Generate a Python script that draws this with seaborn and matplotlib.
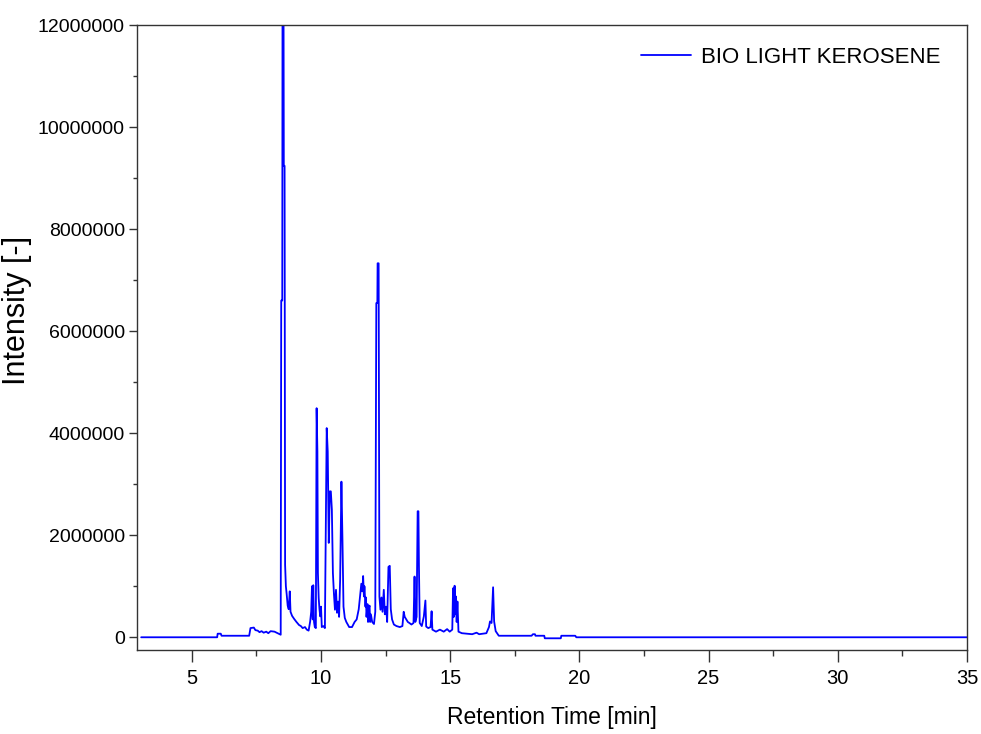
import matplotlib
matplotlib.use("Agg")
import matplotlib.pyplot as plt
from matplotlib.ticker import MultipleLocator, FuncFormatter
import seaborn as sns
import pandas as pd

# retention time [min] and intensity [x 1e6]
time_min = [
    3.04, 5.98, 6.00, 6.12, 6.15, 7.22, 7.27, 7.40, 7.46, 7.55, 7.62, 7.70, 7.78,
    7.88, 7.96, 8.05, 8.20, 8.32, 8.44, 8.46, 8.50, 8.51, 8.55, 8.56, 8.59, 8.61,
    8.64, 8.67, 8.71, 8.75, 8.79, 8.82, 8.88, 8.96, 9.05, 9.15, 9.22, 9.29, 9.38,
    9.45, 9.52, 9.58, 9.62, 9.65, 9.68, 9.70, 9.73, 9.76, 9.80, 9.83, 9.86, 9.88,
    9.91, 9.94, 9.97, 10.00, 10.03, 10.09, 10.15, 10.22, 10.26, 10.30, 10.34,
    10.38, 10.42, 10.46, 10.50, 10.54, 10.58, 10.62, 10.66, 10.70, 10.74, 10.79,
    10.83, 10.87, 10.92, 10.98, 11.09, 11.20, 11.30, 11.38, 11.46, 11.52, 11.56,
    11.60, 11.63, 11.66, 11.68, 11.72, 11.74, 11.76, 11.80, 11.82, 11.84, 11.88,
    11.90, 11.93, 11.98, 12.05, 12.10,
    12.14, 12.18, 12.19, 12.23, 12.26, 12.30, 12.34, 12.38, 12.43, 12.47, 12.52,
    12.56, 12.61, 12.66, 12.70, 12.75, 12.82, 12.92, 13.05, 13.15, 13.20, 13.24,
    13.30, 13.36, 13.42, 13.50, 13.58, 13.62, 13.65, 13.70, 13.74, 13.77, 13.79,
    13.82, 13.90, 13.98, 14.04, 14.07, 14.15, 14.24, 14.28, 14.31, 14.45, 14.60,
    14.75, 14.88, 14.98, 15.08, 15.11, 15.14, 15.17, 15.20, 15.22, 15.25, 15.28,
    15.32, 15.45, 15.65,
    15.85, 16.02, 16.12, 16.40, 16.50, 16.54, 16.60, 16.66, 16.70, 16.76, 16.88,
    18.15, 18.20, 18.28, 18.30, 18.64, 18.66, 19.28, 19.30, 19.84, 19.88, 35.0,
]
intensity_m = [
    0.00, 0.00, 0.07, 0.07, 0.03, 0.03, 0.18, 0.19, 0.14, 0.13, 0.10, 0.12, 0.09,
    0.11, 0.08, 0.12, 0.11, 0.08, 0.05, 6.60, 6.60, 12.30, 12.30, 9.24, 9.24, 1.42,
    1.00, 0.85, 0.62, 0.55, 0.90, 0.50, 0.42, 0.36, 0.30, 0.24, 0.22, 0.18, 0.20,
    0.15, 0.13, 0.31, 0.50, 1.00, 0.35, 1.02, 0.30, 0.20, 0.18, 4.49, 3.64, 1.26,
    0.77, 0.55, 0.41, 0.60, 0.20, 0.22, 0.18, 4.10, 3.64, 1.85, 2.86,
    2.86, 2.50, 1.26, 0.85, 0.54, 0.93, 0.48, 0.70, 0.40, 1.13, 3.05,
    1.91, 0.60, 0.38, 0.30, 0.20, 0.20, 0.30, 0.35, 0.55, 0.85, 1.05,
    0.90, 1.20, 0.80, 1.00, 0.60, 0.78, 0.40, 0.65, 0.30, 0.55, 0.62,
    0.30, 0.45, 0.30, 0.26, 0.50,
    6.55, 6.55, 7.33, 7.33, 0.80, 0.54, 0.78, 0.50, 0.93, 0.45, 0.60,
    0.30, 1.38, 1.40, 0.55, 0.35, 0.25, 0.22, 0.20, 0.22, 0.50, 0.40,
    0.35, 0.30, 0.28, 0.25, 0.28, 1.19, 0.30, 0.40, 2.47, 2.47, 1.39,
    0.28, 0.22, 0.41, 0.72, 0.21, 0.18, 0.20, 0.51, 0.15, 0.11, 0.15,
    0.11, 0.16, 0.11, 0.15, 0.96, 0.40, 1.01, 0.45, 0.80, 0.30, 0.70,
    0.11, 0.08, 0.07,
    0.06, 0.09, 0.06, 0.08, 0.20, 0.31, 0.28, 0.98, 0.31, 0.12, 0.03,
    0.03, 0.06, 0.06, 0.03, 0.03, -0.02, -0.02, 0.03, 0.03, 0.00, 0.00,
]
series_name = "BIO LIGHT KEROSENE"

df = pd.DataFrame({"time": time_min, "intensity": [v * 1e6 for v in intensity_m]})

sns.set_style("ticks")
plt.rcParams["font.family"] = ["Liberation Sans", "DejaVu Sans"]
plt.rcParams["text.color"] = "black"
plt.rcParams["axes.labelcolor"] = "black"
plt.rcParams["xtick.labelcolor"] = "black"
plt.rcParams["ytick.labelcolor"] = "black"

fig, ax = plt.subplots(figsize=(9.81, 7.34), dpi=100)
fig.subplots_adjust(left=0.1397, right=0.9857, bottom=0.1144, top=0.9659)

sns.lineplot(data=df, x="time", y="intensity", sort=False, estimator=None,
             color="#0000ff", lw=1.3, label=series_name, ax=ax)

ax.set_xlim(2.88, 35)
ax.set_ylim(-250000, 12000000)
ax.xaxis.set_major_locator(MultipleLocator(5))
ax.xaxis.set_minor_locator(MultipleLocator(2.5))
ax.yaxis.set_major_locator(MultipleLocator(2000000))
ax.yaxis.set_minor_locator(MultipleLocator(1000000))
ax.yaxis.set_major_formatter(FuncFormatter(lambda v, p: f"{int(round(v))}"))
ax.set_xticks([5, 10, 15, 20, 25, 30, 35])

ax.tick_params(axis="x", which="major", direction="out", length=8.6, width=1,
               color="#333333", labelsize=14.5, pad=5)
ax.tick_params(axis="x", which="minor", direction="out", length=4.3, width=1,
               color="#333333")
ax.tick_params(axis="y", which="major", direction="out", length=5.8, width=1,
               color="#333333", labelsize=14, pad=3)
ax.tick_params(axis="y", which="minor", direction="out", length=3.2, width=1,
               color="#333333")
for sp in ax.spines.values():
    sp.set_color("#333333")
    sp.set_linewidth(1.0)

ax.set_xlabel("Retention Time [min]", fontsize=16.5, labelpad=13)
ax.set_ylabel("Intensity [-]", fontsize=22)
ax.yaxis.set_label_coords(-0.127, 0.544)

ax.legend(loc="upper right", bbox_to_anchor=(0.968, 0.965), frameon=False,
          fontsize=16, handlelength=2.25, handletextpad=0.45,
          borderpad=0, borderaxespad=0)

fig.savefig("out.png", dpi=100)
